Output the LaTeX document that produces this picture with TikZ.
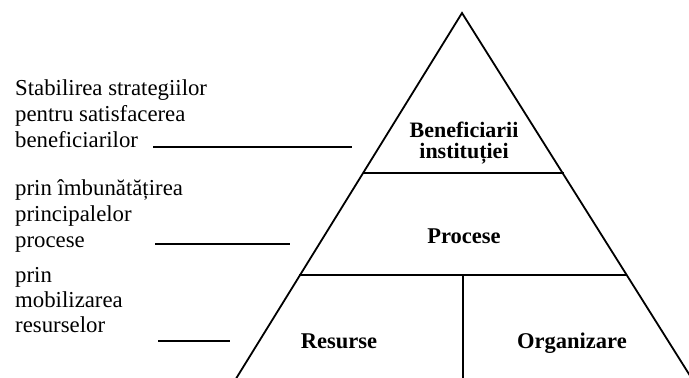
\documentclass[tikz,border=0pt]{standalone}
\usepackage{fontspec}
\setmainfont{Liberation Serif}
\begin{document}
\begin{tikzpicture}[x=1pt,y=-1pt,
  edge/.style={line width=1.8pt,black},
  lefttxt/.style={anchor=base west,inner sep=0pt,font=\fontsize{22.8}{26}\selectfont},
  boldtxt/.style={inner sep=0pt,font=\fontsize{22.5}{23}\selectfont\bfseries}]
\useasboundingbox (0,0) rectangle (689,378);
\begin{scope}
\clip (0,0) rectangle (689,378);
\coordinate (apex) at (462,13);
\coordinate (bl) at (229,390);
\coordinate (br) at (699,390);
\draw[edge,line join=miter] (bl) -- (apex) -- (br);
\coordinate (l1) at (363,173);
\coordinate (r1) at (564,173);
\coordinate (l2) at (299,275);
\coordinate (r2) at (627,275);
\draw[edge] (l1) -- (r1);
\draw[edge] (l2) -- (r2);
\coordinate (d1) at (463,275);
\coordinate (d2) at (463,390);
\draw[edge] (d1) -- (d2);
\end{scope}
% pyramid labels
\node[boldtxt,align=center,font=\fontsize{22}{20.5}\selectfont\bfseries] (bi) at (464,143) {Beneficiarii\\instituției};
\node[boldtxt,anchor=base] (pr) at (464,243) {Procese};
\node[boldtxt,anchor=base] (rs) at (339,348) {Resurse};
\node[boldtxt,anchor=base] (og) at (572,348) {Organizare};
% left texts
\node[lefttxt] (s1) at (15,95) {Stabilirea strategiilor};
\node[lefttxt] (s2) at (15,121) {pentru satisfacerea};
\node[lefttxt] (s3) at (15,147) {beneficiarilor};
\node[lefttxt] (p1) at (15,195) {prin îmbunătățirea};
\node[lefttxt] (p2) at (15,221) {principalelor};
\node[lefttxt] (p3) at (15,247) {procese};
\node[lefttxt] (m1) at (15,282) {prin};
\node[lefttxt] (m2) at (15,307) {mobilizarea};
\node[lefttxt] (m3) at (15,332) {resurselor};
% underline strokes
\coordinate (u1a) at (153,147); \coordinate (u1b) at (352,147);
\coordinate (u2a) at (155,244); \coordinate (u2b) at (290,244);
\coordinate (u3a) at (158,341); \coordinate (u3b) at (230,341);
\draw[edge,line width=1.5pt] (u1a) -- (u1b);
\draw[edge,line width=1.5pt] (u2a) -- (u2b);
\draw[edge,line width=1.5pt] (u3a) -- (u3b);
\end{tikzpicture}
\end{document}
